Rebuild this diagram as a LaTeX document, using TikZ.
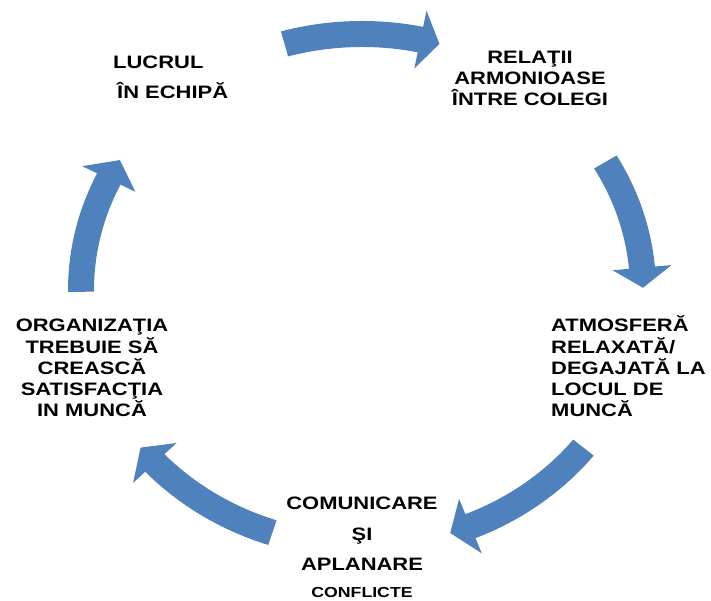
\documentclass[tikz,border=0pt]{standalone}
\usepackage{fontspec}
\newfontfamily\arialfam[FakeStretch=1.22]{Liberation Sans}
\definecolor{cycblue}{RGB}{79,129,189}
% #1 tail angle, #2 head base angle, #3 tip angle (ellipse parameter)
\newcommand\cycarrow[3]{%
  \fill[arrowfill] ([shift={(C)}]#1:294pt and 269pt)
    arc[start angle=#1, end angle=#2, x radius=294pt, y radius=269pt]
    -- ([shift={(C)}]#2:310.5pt and 285.5pt)
    -- ([shift={(C)}]#3:281pt and 256pt)
    -- ([shift={(C)}]#2:251.5pt and 226.5pt)
    -- ([shift={(C)}]#2:268pt and 243pt)
    arc[start angle=#2, end angle=#1, x radius=268pt, y radius=243pt]
    -- cycle;}
\begin{document}
\begin{tikzpicture}[x=1pt,y=1pt,
  lbl/.style={font=\arialfam\bfseries\fontsize{18}{21.3}\selectfont, inner sep=0pt, text=black},
  arrowfill/.style={fill=cycblue}]
\useasboundingbox[fill=white] (0,0) rectangle (711,601);
\coordinate (C) at (362,311);
% arrows
\cycarrow{106}{78}{74}
\cycarrow{30}{5}{0.5}
\cycarrow{-38}{-67.3}{-71.7}
\cycarrow{-108.6}{-137.5}{-142}
\cycarrow{180.4}{154.3}{149.5}
% labels (base anchor = baseline of the last line)
\node[lbl, align=left, anchor=base west] (lucrul) at (113,502) {LUCRUL\\[8.7pt]\hspace*{4pt}ÎN ECHIPĂ};
\node[lbl, align=center, anchor=base] (relatii) at (530,495) {RELAŢII\\ARMONIOASE\\ÎNTRE COLEGI};
\node[lbl, align=left, anchor=base west] (atmos) at (551,184) {ATMOSFERĂ\\RELAXATĂ/\\DEGAJATĂ LA\\LOCUL DE\\MUNCĂ};
\node[lbl, align=center, anchor=base] (organiz) at (92,184) {ORGANIZAŢIA\\TREBUIE SĂ\\CREASCĂ\\SATISFACŢIA\\IN MUNCĂ};
\node[lbl, align=center, anchor=base, font=\arialfam\bfseries\fontsize{18}{30.5}\selectfont] (comunic) at (362,30) {COMUNICARE\\ŞI\\APLANARE};
\node[lbl, anchor=base, font=\arialfam\bfseries\fontsize{14.5}{17}\selectfont] (conflicte) at (362,3) {CONFLICTE};
\end{tikzpicture}
\end{document}
